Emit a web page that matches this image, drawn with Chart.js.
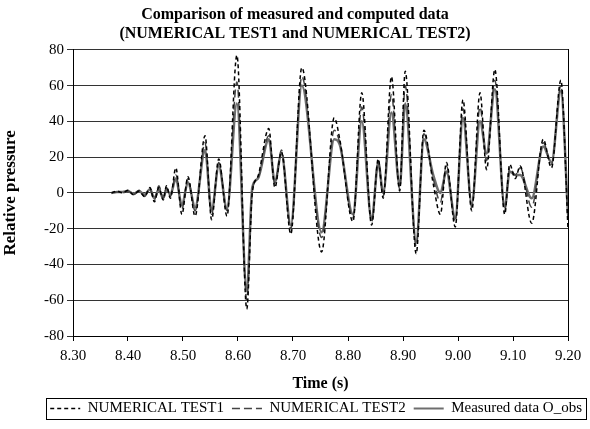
<!DOCTYPE html>
<html>
<head>
<meta charset="utf-8">
<script src="https://cdn.jsdelivr.net/npm/chart.js@4.4.1/dist/chart.umd.min.js"></script>
<style>
  html, body { margin: 0; padding: 0; background: #fff; }
  #wrap { width: 590px; height: 429px; }
</style>
</head>
<body>
<div id="wrap"><canvas id="chart"></canvas></div>
<script>
'use strict';

// time (s) of the points
const times = [8.370, 8.380, 8.390, 8.400, 8.410, 8.420, 8.430, 8.440, 8.448, 8.456, 8.464, 8.470, 8.477,
  8.487, 8.498, 8.509, 8.522, 8.540, 8.552, 8.565, 8.580, 8.598, 8.616,
  8.626, 8.636, 8.656, 8.667, 8.679, 8.696, 8.716, 8.752, 8.775, 8.785,
  8.809, 8.825, 8.843, 8.855, 8.864, 8.879, 8.894, 8.904, 8.924, 8.938,
  8.955, 8.968, 8.979, 8.995, 9.009, 9.025, 9.040, 9.052, 9.067, 9.085,
  9.094, 9.104, 9.113, 9.134, 9.155, 9.170, 9.187, 9.200];

const test1 = [0, 1, 0, 1.5, -1, 1, -2, 3, -5, 3, -4, 4, -3,
  14, -12, 9, -13, 32, -15, 19, -13, 77, -65,
  0, 9, 36, 3, 23, -23, 70, -33, 42, 30,
  -16, 56, -18, 19, -3, 65, 1, 68, -34, 35,
  5, -12, 17, -19, 52, -10, 56, 13, 69, -12,
  16, 8, 15, -17, 30, 14, 63, -20];

const test2 = [0, 0.5, 0, 1, -1, 1.5, -2, 2, -4, 4, -3, 3, -2,
  10, -9, 8, -10, 28, -12, 17, -10, 62, -60,
  2, 8, 32, 5, 24, -20, 65, -25, 35, 28,
  -14, 48, -16, 18, -2, 55, 2, 60, -30, 33,
  8, -5, 15, -16, 47, -8, 48, 18, 63, -10,
  14, 10, 14, -8, 28, 16, 60, -15];

const measured = [0, 0.5, 0.5, 1, -0.5, 1, -1, 2, -3, 2, -3, 2, -1,
  8, -7, 6, -8, 24, -10, 15, -9, 50, -55,
  3, 8, 30, 6, 22, -18, 60, -22, 30, 27,
  -12, 40, -15, 17, 0, 45, 4, 50, -27, 30,
  10, 0, 12, -14, 42, -6, 40, 22, 58, -8,
  12, 10, 10, -3, 26, 17, 57, -12];

const seriesNames = ['NUMERICAL TEST1', 'NUMERICAL TEST2', 'Measured data O_obs'];

const SERIF = "'Liberation Serif','DejaVu Serif',serif";

function pts(vals){ return times.map((t, i) => ({ x: t, y: vals[i] })); }

// box around the legend, like the original
const legendBox = {
  id: 'legendBox',
  afterDraw(chart){
    const lg = chart.legend; if (!lg || !lg.legendHitBoxes.length) return;
    const hb = lg.legendHitBoxes;
    const l = Math.min(...hb.map(h => h.left)) - 4;
    const r = Math.max(...hb.map(h => h.left + h.width)) + 4;
    const t = Math.min(...hb.map(h => h.top)) - 3;
    const b = Math.max(...hb.map(h => h.top + h.height)) + 3;
    const ctx = chart.ctx;
    ctx.save(); ctx.strokeStyle = '#000'; ctx.lineWidth = 1;
    ctx.strokeRect(Math.round(l) + 0.5, Math.round(t) + 0.5, Math.round(r - l), Math.round(b - t));
    ctx.restore();
  }
};

// legend entries keep the dash pattern of their line
function legendLabels(chart){
  return chart.data.datasets.map((ds, i) => ({
    text: ds.label, datasetIndex: i, hidden: false,
    strokeStyle: ds.borderColor, fillStyle: ds.borderColor,
    lineWidth: ds.legendWidth, lineDash: ds.borderDash || [], pointStyle: 'line', fontColor: '#000'
  }));
}

new Chart(document.getElementById('chart'), {
  type: 'line',
  data: { datasets: [
    { label: seriesNames[0], data: pts(test1), borderColor: '#000', borderWidth: 1.5, borderDash: [4, 3], legendWidth: 1.5, pointRadius: 0, cubicInterpolationMode: 'monotone', fill: false },
    { label: seriesNames[1], data: pts(test2), borderColor: '#444', borderWidth: 1.5, borderDash: [8, 4], legendWidth: 1.5, pointRadius: 0, cubicInterpolationMode: 'monotone', fill: false },
    { label: seriesNames[2], data: pts(measured), borderColor: '#6e6e6e', borderWidth: 2.5, legendWidth: 2, pointRadius: 0, cubicInterpolationMode: 'monotone', fill: false }
  ] },
  options: {
    responsive: true, maintainAspectRatio: false, animation: false,
    layout: { padding: { left: 0, right: 0, top: 0, bottom: 3 } },
    plugins: {
      title: { display: true, text: ['Comparison of measured and computed data', '(NUMERICAL TEST1 and NUMERICAL TEST2)'],
        color: '#000', font: { family: SERIF, size: 16, weight: 'bold', lineHeight: 1.15 }, padding: { top: 6, bottom: 7 } },
      legend: { position: 'bottom', align: 'end',
        labels: { color: '#000', font: { family: SERIF, size: 15 }, usePointStyle: true, pointStyleWidth: 30, padding: 8, generateLabels: legendLabels } },
      tooltip: { enabled: false }
    },
    scales: {
      x: { type: 'linear', min: 8.3, max: 9.2,
        ticks: { stepSize: 0.1, color: '#000', font: { family: SERIF, size: 15 }, padding: 6, callback: v => v.toFixed(2), maxRotation: 0 },
        grid: { drawOnChartArea: false, drawTicks: true, tickLength: 5, color: '#000' },
        border: { color: '#000', width: 1 },
        title: { display: true, text: 'Time (s)', color: '#000', font: { family: SERIF, size: 16, weight: 'bold' }, padding: { top: 2, bottom: 0 } },
        afterFit(s){ s.height = 57; } },
      y: { min: -80, max: 80,
        ticks: { stepSize: 20, color: '#000', font: { family: SERIF, size: 15 }, padding: 3 },
        grid: { color: '#333', lineWidth: 1, tickLength: 6 },
        border: { color: '#000', width: 1 },
        title: { display: true, text: 'Relative pressure', color: '#000', font: { family: SERIF, size: 17, weight: 'bold' }, padding: 0 },
        afterFit(s){ s.width = 73; } },
      y2: { position: 'right', min: -80, max: 80,
        ticks: { display: false }, grid: { drawOnChartArea: false, drawTicks: false },
        border: { color: '#000', width: 1 },
        afterFit(s){ s.width = 22; } }
    }
  },
  plugins: [legendBox]
});
</script>
</body>
</html>
